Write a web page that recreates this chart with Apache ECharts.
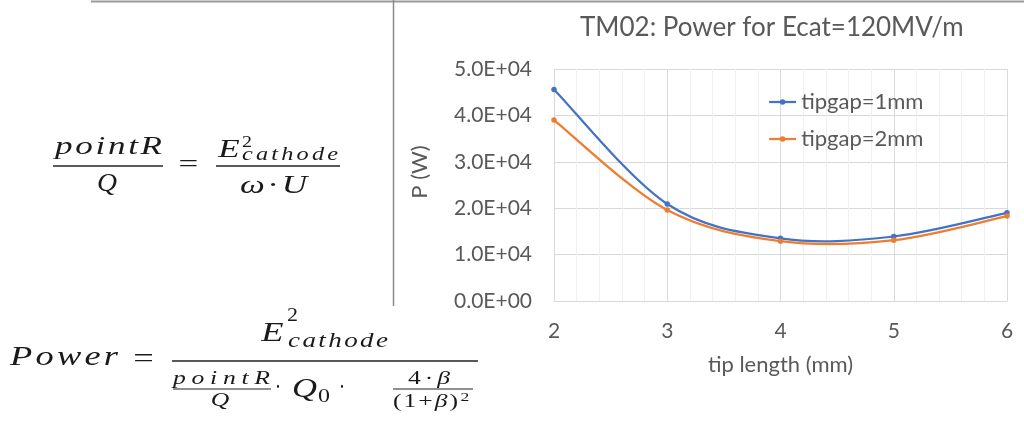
<!DOCTYPE html>
<html><head><meta charset="utf-8">
<script src="https://cdn.jsdelivr.net/npm/echarts@6/dist/echarts.min.js"></script>
<style>html,body{margin:0;padding:0;background:#fff}#c{width:1024px;height:427px}</style>
</head><body><div id="c"></div>
<script>
// ---------- data ----------
const tipLength = [2, 3, 4, 5, 6];
const tipgap1mm = [45600, 20900, 13500, 13900, 19000];
const tipgap2mm = [39000, 19600, 12900, 13100, 18300];
const seriesNames = ['tipgap=1mm', 'tipgap=2mm'];
const yTicks = [0, 10000, 20000, 30000, 40000, 50000];
const xTicks = [2, 3, 4, 5, 6];
const chartTitle = 'TM02: Power for Ecat=120MV/m';
const xName = 'tip length (mm)';
const yName = 'P (W)';

// ---------- formula annotations (layout) ----------
const SERIF = '"Liberation Serif", "DejaVu Serif", serif';
const INK = '#1a1a1a';
const mctx = document.createElement('canvas').getContext('2d');
function charWidth(ch, size, italic) {
  mctx.font = (italic ? 'italic ' : '') + size + 'px ' + SERIF;
  return mctx.measureText(ch).width;
}
// segments: [text, italic]; laid out char by char to span [x0,x1]
function fText(segs, x0, x1, cy, size, maxScale) {
  const chars = [];
  segs.forEach(([s, it]) => { for (const ch of s) chars.push([ch, it, charWidth(ch, size, it)]); });
  const sumW = chars.reduce((a, c) => a + c[2], 0);
  const W = x1 - x0;
  const s = Math.min(W / sumW, maxScale || 1.35);
  const n = chars.length;
  const gap = n > 1 ? (W - s * sumW) / (n - 1) : 0;
  let x = n > 1 ? x0 : x0 + (W - s * sumW) / 2;
  const children = chars.map(([ch, it, w]) => {
    const el = {
      type: 'text', x: x, y: cy, scaleX: s, silent: true,
      style: { text: ch, x: 0, y: 0, align: 'left', verticalAlign: 'middle', fill: INK,
        fontFamily: SERIF, fontStyle: it ? 'italic' : 'normal', fontWeight: 'normal', fontSize: size }
    };
    x += s * w + gap;
    return el;
  });
  return { type: 'group', silent: true, children };
}
function bar(x0, x1, y, lw) {
  return { type: 'line', silent: true, shape: { x1: x0, y1: y, x2: x1, y2: y }, style: { stroke: '#222', lineWidth: lw || 1.4 } };
}
const formula = [
  // pointR / Q = E^2_cathode / (ω · U)
  fText([['pointR', true]], 55, 162, 147, 26),
  bar(53, 163, 166),
  fText([['Q', true]], 97, 117, 184, 26),
  fText([['=', false]], 177, 200, 165, 26),
  bar(216, 340, 166),
  fText([['E', true]], 218, 240, 150, 26),
  fText([['2', false]], 242, 252, 143, 17),
  fText([['cathode', true]], 242, 338, 155, 18),
  fText([['ω', true], ['·', false], ['U', true]], 240, 307, 186, 26),
  // Power = E^2_cathode / (pointR/Q · Q0 · 4·β/(1+β)^2)
  fText([['Power', true]], 10, 118, 358, 27),
  fText([['=', false]], 130, 157, 360, 27),
  bar(172, 478, 361, 1.5),
  fText([['E', true]], 260, 285, 334, 27),
  fText([['2', false]], 287, 298, 316, 19),
  fText([['cathode', true]], 288, 388, 342, 20),
  fText([['pointR', true]], 173, 270, 379, 19),
  bar(173, 271, 389, 1.2),
  fText([['Q', true]], 210, 230, 401, 19),
  fText([['·', false]], 275, 281, 389, 27),
  fText([['Q', true]], 292, 317, 390, 27),
  fText([['0', false]], 318, 330, 397, 19),
  fText([['·', false]], 339, 345, 389, 27),
  fText([['4', false], ['·', false], ['β', true]], 408, 450, 379, 19),
  bar(393, 473, 389, 1.2),
  fText([['(', false], ['1', false], ['+', false], ['β', true], [')', false]], 393, 458, 402, 19),
  fText([['2', false]], 460, 470, 398, 13)
];

const frameLines = [
  { type: 'line', silent: true, shape: { x1: 91, y1: 1.5, x2: 1024, y2: 1.5 }, style: { stroke: '#9a9a9a', lineWidth: 2 } },
  { type: 'line', silent: true, shape: { x1: 393.5, y1: 0, x2: 393.5, y2: 306 }, style: { stroke: '#8c8c8c', lineWidth: 1.5 } }
];

const yNameText = {
  type: 'text', x: 420, y: 172, rotation: Math.PI / 2, silent: true,
  style: { text: yName, x: 0, y: 0, align: 'center', verticalAlign: 'middle', fontFamily: 'Lato', fontSize: 22, fill: '#595959' }
};

function sci(v) {
  const [m, e] = v.toExponential(1).split('e');
  const n = parseInt(e, 10);
  return m + 'E' + (n < 0 ? '-' : '+') + String(Math.abs(n)).padStart(2, '0');
}

const colors = ['#4472C4', '#ED7D31'];
const LINE_W = 2.25;

// smooth curve through the data points (Catmull-Rom style Bezier), positioned via the axes
function curveSeries(values, color) {
  const n = tipLength.length;
  const clamp = k => Math.max(0, Math.min(n - 1, k));
  return {
    type: 'custom', silent: true, z: 2,
    data: tipLength.map((x, i) => [x, values[i]]),
    encode: { x: 0, y: 1 },
    renderItem: (params, api) => {
      const i = params.dataIndex;
      if (i >= n - 1) return null;
      const P = k => api.coord([tipLength[clamp(k)], values[clamp(k)]]);
      const p0 = P(i - 1), p1 = P(i), p2 = P(i + 1), p3 = P(i + 2);
      return {
        type: 'bezierCurve',
        shape: {
          x1: p1[0], y1: p1[1], x2: p2[0], y2: p2[1],
          cpx1: p1[0] + (p2[0] - p0[0]) / 6, cpy1: p1[1] + (p2[1] - p0[1]) / 6,
          cpx2: p2[0] - (p3[0] - p1[0]) / 6, cpy2: p2[1] - (p3[1] - p1[1]) / 6
        },
        style: { stroke: color, lineWidth: LINE_W, fill: null, lineCap: 'round' }
      };
    }
  };
}

const chart = echarts.init(document.getElementById('c'), null, { renderer: 'canvas' });
const option = {
  animation: false,
  backgroundColor: '#fff',
  color: colors,
  title: {
    text: chartTitle, left: 575, top: 10,
    textStyle: { fontFamily: 'Lato', fontSize: 26, fontWeight: 'normal', color: '#595959' }
  },
  legend: {
    orient: 'vertical', left: 763, top: 86, itemGap: 15, itemWidth: 27, itemHeight: 7,
    textStyle: { fontFamily: 'Lato', fontSize: 22, color: '#595959' },
    lineStyle: { opacity: 1, width: LINE_W },
    data: seriesNames.map((nm, i) => ({ name: nm, lineStyle: { opacity: 1, width: LINE_W, color: colors[i] } }))
  },
  grid: { left: 554, right: 17, top: 69, bottom: 126, containLabel: false },
  xAxis: {
    type: 'value', min: xTicks[0], max: xTicks[xTicks.length - 1], interval: xTicks[1] - xTicks[0],
    name: xName, nameLocation: 'middle', nameGap: 53,
    nameTextStyle: { fontFamily: 'Lato', fontSize: 22, color: '#595959' },
    axisLine: { show: true, lineStyle: { color: '#d9d9d9', width: 1 } },
    axisTick: { show: false },
    minorTick: { show: false, splitNumber: 5 },
    minorSplitLine: { show: true, lineStyle: { color: '#f0f0f0', width: 1 } },
    splitLine: { show: true, lineStyle: { color: '#d9d9d9', width: 1 } },
    axisLabel: { margin: 20, fontFamily: 'Lato', fontSize: 21, color: '#595959' }
  },
  yAxis: {
    type: 'value', min: yTicks[0], max: yTicks[yTicks.length - 1], interval: yTicks[1] - yTicks[0],
    axisLine: { show: false }, axisTick: { show: false },
    splitLine: { show: true, lineStyle: { color: '#d9d9d9', width: 1 } },
    axisLabel: { margin: 22, fontFamily: 'Lato', fontSize: 21, color: '#595959', formatter: sci }
  },
  series: [
    curveSeries(tipgap1mm, colors[0]),
    curveSeries(tipgap2mm, colors[1]),
    { name: seriesNames[0], type: 'line', symbol: 'circle', symbolSize: 5.5, z: 3,
      lineStyle: { width: LINE_W, color: colors[0], opacity: 0 }, itemStyle: { color: colors[0] },
      data: tipLength.map((x, i) => [x, tipgap1mm[i]]) },
    { name: seriesNames[1], type: 'line', symbol: 'circle', symbolSize: 5.5, z: 3,
      lineStyle: { width: LINE_W, color: colors[1], opacity: 0 }, itemStyle: { color: colors[1] },
      data: tipLength.map((x, i) => [x, tipgap2mm[i]]) }
  ],
  graphic: frameLines.concat(formula, [yNameText])
};
chart.setOption(option);
</script>
</body></html>
